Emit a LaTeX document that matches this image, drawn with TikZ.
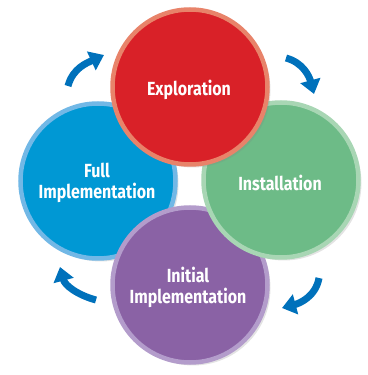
\documentclass[tikz,border=0pt]{standalone}
\usepackage{fontspec}
\setmainfont{Fira Sans}[FakeStretch=0.84,BoldFont={Fira Sans Bold}]
\usetikzlibrary{arrows.meta,shadows}
\definecolor{redfill}{HTML}{D92128}
\definecolor{redline}{HTML}{E8836A}
\definecolor{greenfill}{HTML}{6DBB87}
\definecolor{greenline}{HTML}{A8D6B4}
\definecolor{bluefill}{HTML}{0098D4}
\definecolor{blueline}{HTML}{72B8E6}
\definecolor{purplefill}{HTML}{8A62A5}
\definecolor{purpleline}{HTML}{B39CCB}
\definecolor{arrowblue}{HTML}{0071BB}
\tikzset{
  phase/.style={circle, minimum size=155pt, line width=4.5pt, inner sep=0pt,
    text=white, font=\fontsize{19}{21}\selectfont\bfseries, align=center,
    drop shadow={opacity=0.22, shadow xshift=3pt, shadow yshift=-3pt}},
  lbl/.style={text=white, font=\fontsize{19}{21}\selectfont\bfseries, align=center},
  cyc/.style={line width=7pt, arrowblue, -{Triangle[width=20pt,length=14pt]}}
}
\begin{document}
\begin{tikzpicture}[x=1pt,y=1pt]
\useasboundingbox (0,0) rectangle (367,375);
\node[phase, fill=bluefill, draw=blueline] (full) at (98,194) {};
\node[phase, fill=purplefill, draw=purpleline] (init) at (190,90) {};
\node[phase, fill=greenfill, draw=greenline] (inst) at (281,195) {};
\node[phase, fill=redfill, draw=redline] (expl) at (190,288) {};
\node[lbl] (tfull) at (97,192) {Full\\Implementation};
\node[lbl] (tinit) at (188,88) {Initial\\Implementation};
\node[lbl] (tinst) at (280,192) {Installation};
\node[lbl] (texpl) at (189,285) {Exploration};
\coordinate (a1s) at (68,289); \coordinate (a1e) at (104,320);
\coordinate (a2s) at (286,317); \coordinate (a2e) at (314,281);
\coordinate (a3s) at (319,97); \coordinate (a3e) at (282,67);
\coordinate (a4s) at (96,75); \coordinate (a4e) at (60,108);
\draw[cyc] (a1s) to[out=75,in=205] (a1e);
\draw[cyc] (a2s) to[out=-15,in=105] (a2e);
\draw[cyc] (a3s) to[out=-100,in=15] (a3e);
\draw[cyc] (a4s) to[out=165,in=-75] (a4e);
\end{tikzpicture}
\end{document}
